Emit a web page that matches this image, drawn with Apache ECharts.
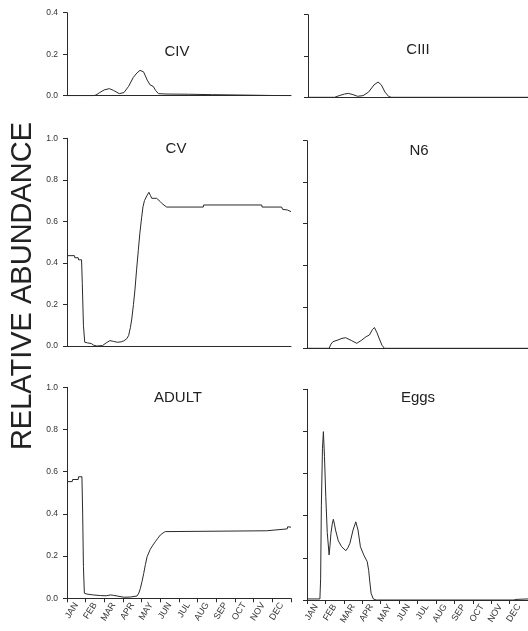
<!DOCTYPE html>
<html>
<head>
<meta charset="utf-8">
<style>html,body{margin:0;padding:0;background:#fff;}#c{width:528px;height:631px;}</style>
<script src="https://cdn.jsdelivr.net/npm/echarts@6/dist/echarts.min.js"></script>
</head>
<body>
<div id="c"></div>
<script>
const months = ['JAN','FEB','MAR','APR','MAY','JUN','JUL','AUG','SEP','OCT','NOV','DEC'];
const panelTitles = ['CIV','CIII','CV','N6','ADULT','Eggs'];
const yMaxTop = 0.4, yMaxMain = 1.0, yStep = 0.2;

// [month position, relative abundance]
const civ = [[0,0],[1.4,0],[1.55,0.003],[1.75,0.015],[2.0,0.028],[2.27,0.034],[2.5,0.025],[2.8,0.01],[3.05,0.015],[3.3,0.045],[3.55,0.088],[3.75,0.11],[3.91,0.122],[4.1,0.115],[4.3,0.075],[4.45,0.052],[4.62,0.045],[4.75,0.025],[4.9,0.01],[5.3,0.008],[6.5,0.007],[7.8,0.005],[9.5,0.003],[11,0.001],[12,0]];
const ciii = [[0,0],[1.45,0],[1.7,0.008],[2.0,0.016],[2.2,0.019],[2.45,0.013],[2.7,0.005],[3.0,0.008],[3.3,0.025],[3.6,0.06],[3.82,0.074],[4.0,0.06],[4.2,0.025],[4.4,0.004],[4.55,0],[12,0]];
const cv = [[0,0.435],[0.4,0.435],[0.42,0.425],[0.6,0.425],[0.62,0.415],[0.78,0.415],[0.82,0.3],[0.88,0.1],[0.95,0.018],[1.1,0.015],[1.3,0.012],[1.42,0.004],[1.6,0.0],[1.9,0.002],[2.1,0.015],[2.3,0.026],[2.5,0.022],[2.7,0.018],[2.9,0.02],[3.05,0.025],[3.2,0.035],[3.3,0.05],[3.4,0.09],[3.47,0.13],[3.56,0.2],[3.64,0.27],[3.73,0.37],[3.82,0.46],[3.9,0.54],[4.0,0.62],[4.07,0.67],[4.15,0.70],[4.27,0.722],[4.39,0.74],[4.47,0.725],[4.54,0.711],[4.8,0.711],[5.0,0.695],[5.1,0.685],[5.2,0.679],[5.34,0.669],[7.3,0.669],[7.32,0.679],[10.43,0.679],[10.45,0.669],[11.5,0.669],[11.55,0.658],[11.8,0.655],[11.85,0.648],[12,0.647]];
const n6 = [[0,0],[1.2,0],[1.3,0.02],[1.41,0.032],[1.68,0.04],[1.9,0.048],[2.1,0.051],[2.4,0.038],[2.7,0.024],[2.95,0.038],[3.21,0.056],[3.39,0.064],[3.55,0.09],[3.66,0.1],[3.8,0.075],[3.93,0.045],[4.07,0.015],[4.2,0.0],[12,0]];
const adult = [[0,0.553],[0.28,0.553],[0.3,0.563],[0.6,0.563],[0.62,0.576],[0.8,0.576],[0.84,0.4],[0.88,0.15],[0.93,0.024],[1.07,0.02],[1.4,0.016],[1.79,0.013],[2.1,0.012],[2.32,0.016],[2.5,0.014],[2.68,0.011],[3.04,0.005],[3.4,0.006],[3.75,0.011],[3.85,0.025],[3.93,0.047],[4.02,0.08],[4.11,0.118],[4.2,0.16],[4.29,0.197],[4.46,0.232],[4.6,0.252],[4.73,0.268],[4.87,0.285],[5.0,0.3],[5.15,0.31],[5.27,0.316],[5.34,0.32],[10.7,0.32],[10.72,0.329],[11.8,0.329],[11.82,0.339],[12,0.337]];
const eggs = [[0,0.005],[0.7,0.005],[0.74,0.1],[0.78,0.45],[0.84,0.72],[0.89,0.799],[0.95,0.68],[1.02,0.49],[1.1,0.32],[1.2,0.214],[1.25,0.26],[1.3,0.316],[1.37,0.36],[1.43,0.383],[1.49,0.36],[1.55,0.332],[1.7,0.281],[1.88,0.253],[2.11,0.234],[2.22,0.248],[2.33,0.269],[2.5,0.332],[2.65,0.371],[2.77,0.332],[2.9,0.253],[3.08,0.214],[3.27,0.182],[3.35,0.14],[3.4,0.095],[3.48,0.032],[3.6,0.005],[3.76,0],[11.2,0],[11.4,0.003],[12,0.005]];

const seriesData = [civ, ciii, cv, n6, adult, eggs];

const grids = [
  {left:67, top:12.7, width:224, height:83},
  {left:308, top:14.7, width:224, height:82.6},
  {left:67, top:138.3, width:224, height:207.7},
  {left:307, top:140.7, width:224, height:207.6},
  {left:67, top:387.3, width:224, height:211},
  {left:307, top:389.3, width:224, height:210.7}
];
const titlePos = [[177,52],[418,50],[176,149],[419,150.5],[178,397.5],[418,398]];

const ink = '#2a2a2a';
const xAxes = [], yAxes = [], series = [], graphics = [];
grids.forEach((g, i) => {
  const isLeft = i % 2 === 0;
  const isBottom = i >= 4;
  const ymax = i < 2 ? yMaxTop : yMaxMain;
  xAxes.push({
    type:'value', gridIndex:i, min:0, max:12,
    axisLine:{show:true, onZero:false, lineStyle:{color:ink, width:1}},
    axisTick:{show:false}, axisLabel:{show:false}, splitLine:{show:false}
  });
  if (isBottom) {
    xAxes.push({
      type:'category', gridIndex:i, data:months, boundaryGap:true, position:'bottom',
      axisLine:{show:false},
      axisTick:{show:true, interval:0, length:4, lineStyle:{color:ink, width:1}},
      axisLabel:{show:true, interval:0, rotate:58, margin:5, fontSize:9,
        fontFamily:'"Liberation Sans Narrow","Liberation Sans",Arial,sans-serif', color:'#333'},
      splitLine:{show:false}
    });
  }
  yAxes.push({
    type:'value', gridIndex:i, min:0, max:ymax, interval:yStep,
    axisLine:{show:true, lineStyle:{color:ink, width:1}},
    axisTick:{show:true, length:4, lineStyle:{color:ink, width:1}},
    axisLabel:{show:isLeft, margin:9, fontSize:8.5, color:'#333',
      fontFamily:'"Liberation Sans",Arial,sans-serif',
      formatter:v => v.toFixed(1)},
    splitLine:{show:false}
  });
  series.push({
    type:'line', xAxisIndex: xAxes.length - (isBottom ? 2 : 1), yAxisIndex:i,
    data: seriesData[i], showSymbol:false, symbol:'none', smooth:false,
    lineStyle:{color:ink, width:1}, silent:true, animation:false
  });
  graphics.push({
    type:'text', x:titlePos[i][0], y:titlePos[i][1],
    style:{text:panelTitles[i], fill:'#222', font:'15px "Liberation Sans",Arial,sans-serif',
      textAlign:'center', textVerticalAlign:'middle'}
  });
});
graphics.push({
  type:'text', x:22.5, y:286, rotation:Math.PI/2,
  style:{text:'RELATIVE ABUNDANCE', fill:'#222', font:'29px "Liberation Sans",Arial,sans-serif',
    textAlign:'center', textVerticalAlign:'middle'}
});

const chart = echarts.init(document.getElementById('c'), null, {renderer:'canvas'});
chart.setOption({
  animation:false,
  backgroundColor:'#fff',
  grid: grids,
  xAxis: xAxes,
  yAxis: yAxes,
  series: series,
  graphic: graphics
});
</script>
</body>
</html>
